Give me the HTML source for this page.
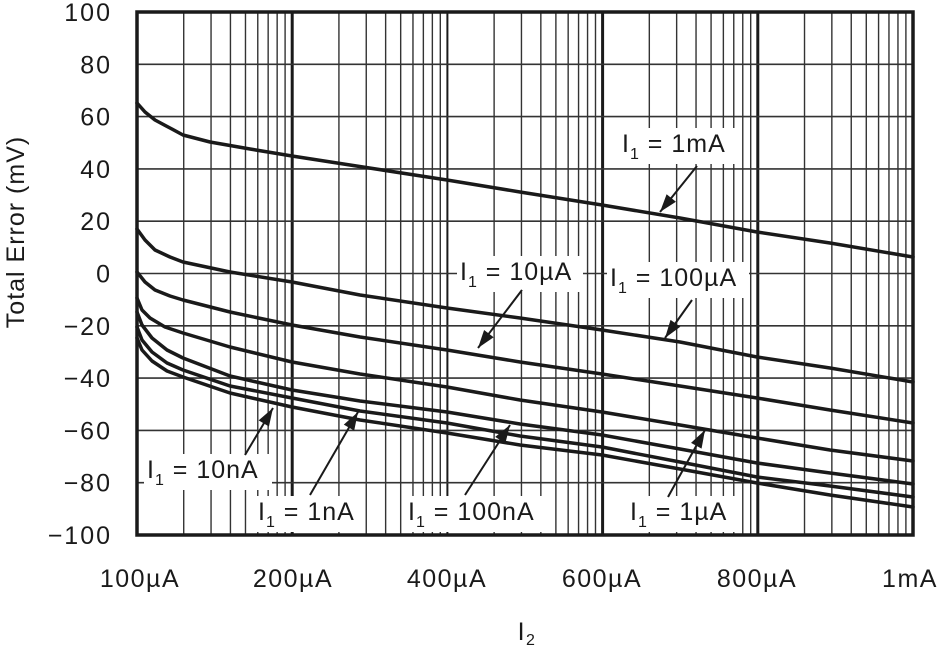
<!DOCTYPE html>
<html><head><meta charset="utf-8"><style>
html,body{margin:0;padding:0;background:#fff;}
svg{display:block;font-family:"Liberation Sans",sans-serif;}
</style></head><body>
<svg id="s" width="946" height="649" viewBox="0 0 946 649" xmlns="http://www.w3.org/2000/svg">
<g id="grid"></g>
<g fill="none" stroke="#1a1a1a" stroke-width="3.5" stroke-linejoin="round" stroke-linecap="round">
<polyline points="137,103 145,112 155,120 170,128 183,135 210,142 250,149 292,156 350,165 447,180 520,192 602,205 680,218 757,232 830,243 913,257"/>
<polyline points="137,229 145,240 155,250 170,257 183,262 230,272 292,282 360,295 447,308 520,318 602,330 680,342 757,357 830,368 913,382"/>
<polyline points="137,272 145,282 155,290 170,296 183,300 230,312 292,325 360,337 447,350 520,362 602,374 680,386 757,398 830,410 913,423"/>
<polyline points="137,298 142,310 150,318 165,327 183,333 230,347 292,362 360,374 447,387 520,400 602,412 680,425 757,438 830,450 913,461"/>
<polyline points="137,312 142,325 152,338 167,350 183,358 230,376 292,390 360,401 447,412 520,424 602,435 680,449 757,463 830,473 913,484"/>
<polyline points="137,327 142,340 152,352 167,363 183,370 230,386 292,398 360,411 447,423 520,436 602,447 680,462 757,477 830,486 913,497"/>
<polyline points="137,338 142,350 152,361 167,371 183,377 230,393 292,407 360,420 447,433 520,445 602,455 680,469 757,483 830,495 913,507"/>
</g>
<g id="ann" font-size="25" fill="#1a1a1a" letter-spacing="1"></g>
<rect x="137" y="12" width="776" height="523" fill="none" stroke="#1a1a1a" stroke-width="3.5"/>
<g font-size="25" fill="#1a1a1a" text-anchor="end" id="yt" letter-spacing="2"></g>
<g font-size="25" fill="#1a1a1a" text-anchor="middle" letter-spacing="1.5">
<text x="140" y="587">100µA</text><text x="293" y="587">200µA</text><text x="447" y="587">400µA</text>
<text x="602" y="587">600µA</text><text x="757" y="587">800µA</text><text x="910" y="587">1mA</text>
<text x="527" y="640">I<tspan font-size="16" dy="5">2</tspan></text>
<text transform="translate(24,232) rotate(-90)" letter-spacing="1">Total Error (mV)</text>
</g>
</svg>
<script>
const NS="http://www.w3.org/2000/svg";
function el(p,t,a,txt){const e=document.createElementNS(NS,t);for(const k in a)e.setAttribute(k,a[k]);if(txt!==undefined)e.textContent=txt;p.appendChild(e);return e;}
const g=document.getElementById('grid');
const x0=137,x1=913,y0=12,y1=535,seg=(x1-x0)/5;
for(let s=0;s<5;s++){for(let k=2;k<=9;k++){const x=x0+s*seg+Math.log10(k)*seg;el(g,'line',{x1:x,x2:x,y1:y0,y2:y1,stroke:'#333','stroke-width':1.4});}
 if(s>0){const x=x0+s*seg;el(g,'line',{x1:x,x2:x,y1:y0,y2:y1,stroke:'#1a1a1a','stroke-width':(s==2?2:3)});}}
const yt=document.getElementById('yt');
for(let i=0;i<=10;i++){const y=y0+i*(y1-y0)/10;if(i>0&&i<10)el(g,'line',{x1:x0,x2:x1,y1:y,y2:y,stroke:'#333','stroke-width':1.6});
 const v=100-20*i;el(yt,'text',{x:112,y:y+9},(v<0?'\u2212':'')+Math.abs(v));}
const an=document.getElementById('ann');
function lab(x,y,t,w,ax1,ay1,ax2,ay2){
 el(an,'rect',{x:x-3,y:y-24,width:w,height:36,fill:'#fff'});
 const tx=el(an,'text',{x:x,y:y});tx.innerHTML='I<tspan font-size="16" dy="7">1</tspan><tspan dy="-7"> = '+t+'</tspan>';
 el(an,'line',{x1:ax1,y1:ay1,x2:ax2,y2:ay2,stroke:'#1a1a1a','stroke-width':2});
 const a=Math.atan2(ay2-ay1,ax2-ax1),L=18,W=6;
 const bx=ax2-L*Math.cos(a),by=ay2-L*Math.sin(a);
 el(an,'polygon',{points:`${ax2},${ay2} ${bx+W*Math.sin(a)},${by-W*Math.cos(a)} ${bx-W*Math.sin(a)},${by+W*Math.cos(a)}`,fill:'#1a1a1a'});}
lab(622,152,'1mA',118,697,166,660,212);
lab(460,280,'10µA',126,522,290,478,348);
lab(610,286,'100µA',142,692,300,665,338);
lab(147,478,'10nA',128,245,455,273,408);
lab(258,520,'1nA',108,310,495,358,412);
lab(408,520,'100nA',142,465,495,510,425);
lab(630,520,'1µA',110,668,497,705,430);
</script>
</body></html>
